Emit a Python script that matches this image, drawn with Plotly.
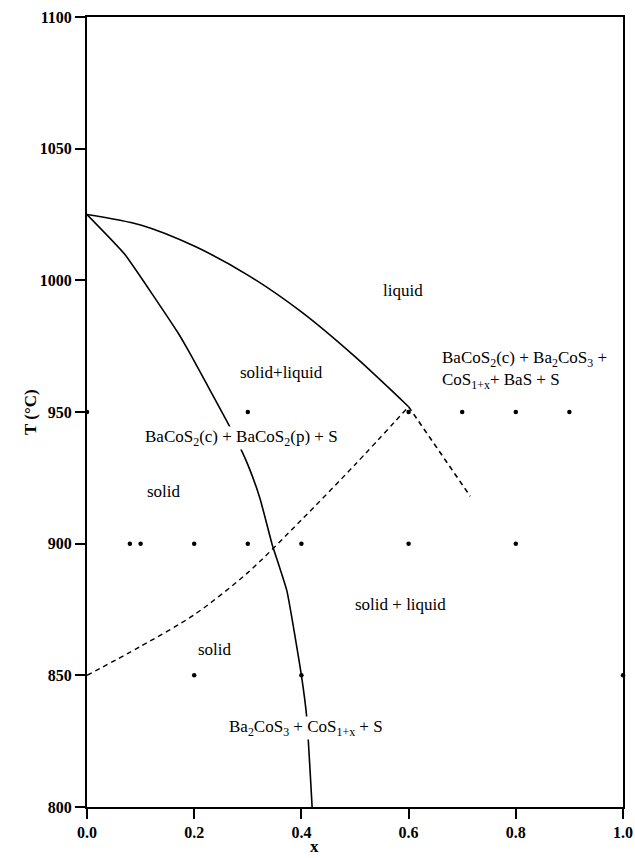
import plotly.graph_objects as go

# Liquidus (solid curve)
liq_x = [0.0, 0.1, 0.2, 0.3, 0.4, 0.5, 0.6]
liq_T = [1025, 1021, 1013, 1002, 988, 971, 952]

# Solid line from apex down to bottom
sol_x = [0.0, 0.07, 0.17, 0.19, 0.27, 0.30, 0.323, 0.345, 0.373, 0.40, 0.41, 0.42]
sol_T = [1025, 1010, 980, 973, 943, 930, 917, 900, 882, 850, 834, 800]

# Dashed boundary
dash_x = [0.0, 0.1, 0.2, 0.3, 0.4, 0.5, 0.6]
dash_T = [850, 861, 873, 889, 909, 930, 952]

# Dashed extension beyond x=0.6
ext_x = [0.6, 0.715]
ext_T = [952, 918]

# Experimental points
pts_x = [0.0, 0.3, 0.6, 0.7, 0.8, 0.9,
         0.08, 0.1, 0.2, 0.3, 0.4, 0.6, 0.8,
         0.2, 0.4, 1.0]
pts_T = [950, 950, 950, 950, 950, 950,
         900, 900, 900, 900, 900, 900, 900,
         850, 850, 850]

x_ticks = [0.0, 0.2, 0.4, 0.6, 0.8, 1.0]
x_ticklabels = ["0.0", "0.2", "0.4", "0.6", "0.8", "1.0"]
y_ticks = [800, 850, 900, 950, 1000, 1050, 1100]
y_ticklabels = ["800", "850", "900", "950", "1000", "1050", "1100"]

labels = [
    ("liquid", 0.59, 996, "center", False),
    ("solid+liquid", 0.362, 965, "center", False),
    ("BaCoS<sub>2</sub>(c) + BaCoS<sub>2</sub>(p) + S", 0.289, 940, "center", True),
    ("solid", 0.110, 920, "left", False),
    ("solid + liquid", 0.584, 877, "center", False),
    ("solid", 0.239, 860, "center", False),
    ("Ba<sub>2</sub>CoS<sub>3</sub> + CoS<sub>1+x</sub> + S", 0.409, 830, "center", True),
]

FONT = "Liberation Serif"
TXT = 17

fig = go.Figure()
fig.add_trace(go.Scatter(x=liq_x, y=liq_T, mode="lines", line=dict(color="black", width=1.6, shape="spline", smoothing=0.8)))
fig.add_trace(go.Scatter(x=sol_x, y=sol_T, mode="lines", line=dict(color="black", width=1.6, shape="spline", smoothing=0.4)))
fig.add_trace(go.Scatter(x=dash_x, y=dash_T, mode="lines", line=dict(color="black", width=1.4, dash="5px,4px", shape="spline", smoothing=0.8)))
fig.add_trace(go.Scatter(x=ext_x, y=ext_T, mode="lines", line=dict(color="black", width=1.6, dash="5px,4px")))
fig.add_trace(go.Scatter(x=pts_x, y=pts_T, mode="markers", marker=dict(color="black", size=4.5), cliponaxis=False))

for txt, x, y, al, bg in labels:
    fig.add_annotation(x=x, y=y, text=txt, showarrow=False, xanchor=al,
                       bgcolor="white" if bg else "rgba(0,0,0,0)", borderpad=0,
                       font=dict(family=FONT, size=TXT, color="black"))

fig.add_annotation(x=0.659, y=966, text="BaCoS<sub>2</sub>(c) + Ba<sub>2</sub>CoS<sub>3</sub> +<br>CoS<sub>1+x</sub>+ BaS + S",
                   showarrow=False, xanchor="left", align="left",
                   font=dict(family=FONT, size=TXT, color="black"))

# Axis titles
fig.add_annotation(xref="paper", yref="paper", x=0.425, y=0, yshift=-39, text="<b>x</b>",
                   showarrow=False, xanchor="center", yanchor="middle",
                   font=dict(family=FONT, size=17, color="black"))
fig.add_annotation(xref="paper", yref="paper", x=0, y=0.5, xshift=-57, text="<b>T (°C)</b>",
                   showarrow=False, textangle=-90, xanchor="center", yanchor="middle",
                   font=dict(family=FONT, size=17, color="black"))

fig.update_layout(
    width=635, height=858,
    margin=dict(l=87, r=12, t=17, b=51, autoexpand=False),
    plot_bgcolor="white", paper_bgcolor="white",
    showlegend=False,
    font=dict(family=FONT, color="black"),
)
fig.update_xaxes(range=[0, 1.0], tickvals=x_ticks, ticktext=x_ticklabels, automargin=False,
                 showgrid=False, zeroline=False, showline=True, linecolor="black", linewidth=2,
                 mirror=True, ticks="outside", ticklen=10, tickwidth=2, tickcolor="black",
                 tickfont=dict(family=FONT, size=16, color="black", weight="bold"))
fig.update_yaxes(range=[800, 1100], tickvals=y_ticks, ticktext=y_ticklabels, automargin=False,
                 showgrid=False, zeroline=False, showline=True, linecolor="black", linewidth=2,
                 mirror=True, ticks="outside", ticklen=10, tickwidth=2, tickcolor="black",
                 tickfont=dict(family=FONT, size=16, color="black", weight="bold"))

fig.write_html("out.html", config={"displayModeBar": False},
               post_script="document.body.style.margin='0';document.body.style.overflow='hidden';")
